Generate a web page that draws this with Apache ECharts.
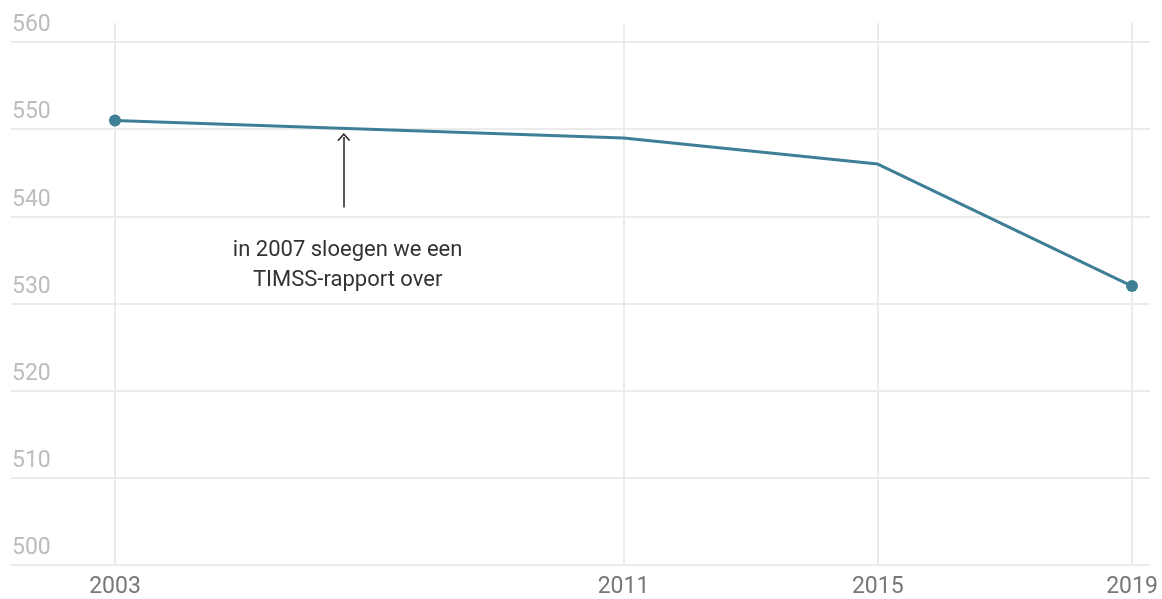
<!DOCTYPE html>
<html>
<head>
<meta charset="utf-8">
<script src="https://cdn.jsdelivr.net/npm/echarts@6/dist/echarts.min.js"></script>
<style>
  html, body { margin: 0; padding: 0; background: #fff; }
  #chart { width: 1162px; height: 599px; }
</style>
</head>
<body>
<div id="chart"></div>
<script>
const years = [2003, 2011, 2015, 2019];
const scores = [551, 549, 546, 532];
const dotted = [true, false, false, true];
const yTicks = [500, 510, 520, 530, 540, 550, 560];
const noteYear = 2006.6;
const noteArrow = [541, 549.1];
const noteTextAt = [2006.66, 534.4];
const noteText = 'in 2007 sloegen we een\nTIMSS-rapport over';

const chart = echarts.init(document.getElementById('chart'));
const gridColor = '#ebebeb';

chart.setOption({
  backgroundColor: '#fff',
  animation: false,
  textStyle: { fontFamily: 'Roboto' },
  grid: { left: 11, right: 12, top: 23, bottom: 34 },
  xAxis: {
    type: 'value',
    min: 2001.364,
    max: 2019.283,
    axisLine: { show: true, lineStyle: { color: gridColor, width: 2 } },
    axisTick: { show: false, customValues: years },
    axisLabel: { customValues: years, color: '#777', fontSize: 23, margin: 11, formatter: v => String(v) },
    splitLine: { show: true, lineStyle: { color: gridColor, width: 2 } }
  },
  yAxis: {
    type: 'value',
    min: 500,
    max: 562.18,
    interval: 10,
    axisLine: { show: false },
    axisTick: { show: false },
    axisLabel: {
      inside: true,
      customValues: yTicks,
      color: '#bdbdbd',
      fontSize: 23,
      margin: 1,
      verticalAlign: 'bottom',
      padding: [0, 0, 5, 0]
    },
    splitLine: {
      show: true,
      lineStyle: { color: [gridColor, gridColor, gridColor, gridColor, gridColor, gridColor, gridColor, 'rgba(0,0,0,0)'], width: 2 }
    }
  },
  series: [{
    type: 'line',
    data: years.map((y, i) => ({
      value: [y, scores[i]],
      symbolSize: dotted[i] ? 12 : 0
    })),
    symbol: 'circle',
    showSymbol: true,
    lineStyle: { color: '#3e7f97', width: 3 },
    itemStyle: { color: '#3e7f97' },
    markLine: {
      silent: true,
      symbol: ['none', 'path://M0,8 L6,0 L12,8 L10.8,8.9 L6,2.4 L1.2,8.9 Z'],
      symbolSize: [13, 8],
      lineStyle: { color: '#222', width: 1.5, type: 'solid' },
      label: { show: false },
      data: [[{ coord: [noteYear, noteArrow[0]] }, { coord: [noteYear, noteArrow[1]] }]]
    },
    markPoint: {
      silent: true,
      symbol: 'circle',
      symbolSize: 0,
      label: {
        show: true,
        position: 'inside',
        formatter: noteText,
        color: '#333',
        fontSize: 22,
        lineHeight: 30,
        align: 'center'
      },
      data: [{ coord: noteTextAt }]
    }
  }]
});
</script>
</body>
</html>
